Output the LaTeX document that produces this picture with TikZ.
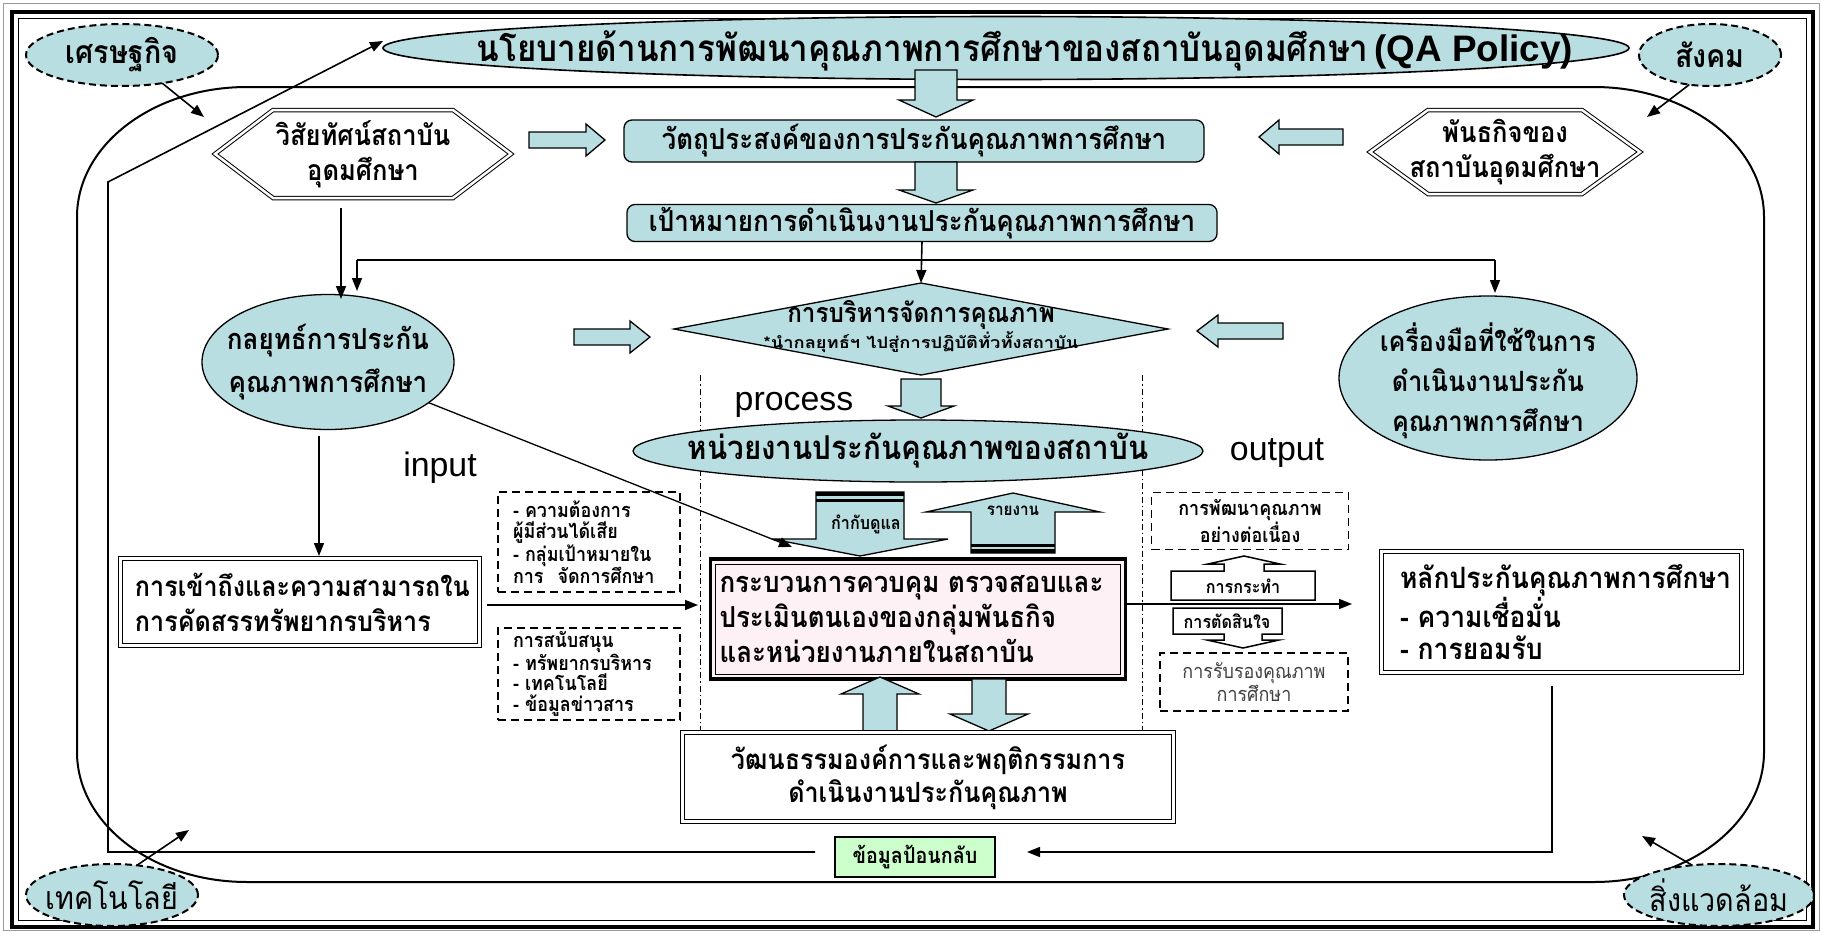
\documentclass[tikz,border=0pt]{standalone}
\usepackage{fontspec}
\usetikzlibrary{shapes.geometric,arrows.meta}
\newfontfamily\thai[Script=Thai, FakeStretch=0.9]{Loma}
\newfontfamily\thaiwide[Script=Thai, FakeStretch=1.15]{Loma}
\newfontfamily\latin{Liberation Sans}
\definecolor{qacyan}{RGB}{185,222,226}
\definecolor{qagreen}{RGB}{204,255,204}
\definecolor{qapink}{RGB}{253,241,245}
\newcommand\thb[2]{\thai\bfseries\fontsize{#1}{#2}\selectfont}
\newcommand\thr[2]{\thai\fontsize{#1}{#2}\selectfont}
\tikzset{
  qaell/.style={ellipse, draw, line width=1.3bp, fill=qacyan},
  envell/.style={ellipse, draw, line width=2bp, dash pattern=on 7bp off 4bp, fill=qacyan},
  dbox/.style={draw, line width=1.8bp, dash pattern=on 8bp off 5bp},
  dblbox/.style={draw, double=white, double distance=3bp, line width=1bp},
  dblline/.style={draw, double=white, double distance=2.5bp, line width=1bp},
  cyanbox/.style={draw, fill=qacyan, line width=1.3bp, rounded corners=8bp},
  conn/.style={line width=1.6bp},
  arr/.style={conn, -{Triangle[length=13bp,width=10bp]}},
  barrowline/.style={draw, fill=qacyan, line width=1.3bp},
  callout/.style={draw, fill=white, line width=1.5bp},
  dashdot/.style={line width=0.9bp, dash pattern=on 6bp off 3bp on 1.5bp off 3bp},
  pics/barrow/.style args={#1/#2/#3/#4}{code={%
    \path[barrowline] (-#2,0) -- (#2,0) -- (#2,#1-#4) -- (#3,#1-#4) -- (0,#1)
      -- (-#3,#1-#4) -- (-#2,#1-#4) -- cycle;}},
}
\begin{document}
\begin{tikzpicture}[x=1bp, y=-1bp, every node/.style={inner sep=0pt, outer sep=0pt}]
\useasboundingbox (0,0) rectangle (1822,933);
\fill[white] (0,0) rectangle (1822,933);

% page frame
\draw[black!40, line width=1bp] (3,3) rectangle (1819,930);
\draw[line width=4bp] (12,12) rectangle (1813,927);
\draw[line width=1bp] (18.5,18.5) rectangle (1806.5,920.5);

% environment loop
\draw[line width=2bp] (247,87) -- (1594,87) .. controls (1688,87) and (1764,145) .. (1764,217)
  -- (1764,752) .. controls (1764,824) and (1688,882) .. (1594,882)
  -- (247,882) .. controls (153,882) and (77,824) .. (77,752)
  -- (77,217) .. controls (77,145) and (153,87) .. (247,87) -- cycle;

% policy
\node[qaell, line width=1.6bp, minimum width=1246bp, minimum height=63bp] (title) at (1006,48) {};
\node[anchor=base, font=\thb{37}{40}] (titletxt) at (1025,61)
  {นโยบายด้านการพัฒนาคุณภาพการศึกษาของสถาบันอุดมศึกษา\hspace{6bp}{\latin\bfseries\fontsize{37}{40}\selectfont(QA Policy)}};

% external factors
\node[envell, minimum width=192bp, minimum height=62bp] (econ) at (122,55) {};
\node[font=\thb{32}{34}] (econt) at (econ) {เศรษฐกิจ};
\node[envell, minimum width=142bp, minimum height=62bp] (soc) at (1710,55) {};
\node[font=\thb{32}{34}] (soct) at (soc) {สังคม};
\node[envell, minimum width=172bp, minimum height=62bp] (tech) at (112,895) {};
\node[font=\thr{32}{34}] (techt) at (tech) {เทคโนโลยี};
\node[envell, minimum width=190bp, minimum height=62bp] (env) at (1719,895) {};
\node[font=\thr{32}{34}] (envt) at (env) {สิ่งแวดล้อม};
\coordinate (econtip) at (204,117);
\coordinate (soctip) at (1647,117);
\coordinate (techtip) at (189,830);
\coordinate (envtip) at (1642,836);
\draw[arr] (econ.-35) -- (econtip);
\draw[arr] (soc.-125) -- (soctip);
\draw[arr] (tech.50) -- (techtip);
\draw[arr] (env.132) -- (envtip);

% vision and mission
\draw[dblline] (215,154) -- (273,110) -- (453,110) -- (511,154) -- (453,198) -- (273,198) -- cycle;
\node[font=\thb{28.5}{35}, align=center] (vision) at (363,154) {วิสัยทัศน์สถาบัน\\อุดมศึกษา};
\draw[dblline] (1370,152) -- (1428,110) -- (1582,110) -- (1640,152) -- (1582,194) -- (1428,194) -- cycle;
\node[font=\thb{28.5}{35}, align=center] (mission) at (1505,152) {พันธกิจของ\\สถาบันอุดมศึกษา};

% objectives and goals
\node[cyanbox, minimum width=580bp, minimum height=42bp, font=\thb{29}{31}] (obj) at (914,141) {วัตถุประสงค์ของการประกันคุณภาพการศึกษา};
\node[cyanbox, minimum width=590bp, minimum height=37bp, font=\thb{29}{31}] (goals) at (922,223) {เป้าหมายการดำเนินงานประกันคุณภาพการศึกษา};
\pic at (936,70) {barrow=47/21/37/17};
\pic at (936,162) {barrow=41/21/37/13};
\pic[rotate=90] at (529,140) {barrow=76/8/16/19};
\pic[rotate=-90] at (1343,137) {barrow=84/8/17/20};

% strategy, management, tools
\node[qaell, minimum width=252bp, minimum height=135bp] (lell) at (328,362) {};
\node[font=\thb{29}{43}, align=center] (lellt) at (lell) {กลยุทธ์การประกัน\\คุณภาพการศึกษา};
\node[qaell, minimum width=298bp, minimum height=164bp] (rell) at (1488,378) {};
\node[font=\thb{28}{40}, align=center] (rellt) at ([yshift=-3bp]rell.center) {เครื่องมือที่ใช้ในการ\\ดำเนินงานประกัน\\คุณภาพการศึกษา};
\node[diamond, draw, fill=qacyan, line width=1.3bp, minimum width=494bp, minimum height=92bp] (diamond) at (921,329) {};
\node[font=\thb{27}{30}] (dtitle) at (921,315) {การบริหารจัดการคุณภาพ};
\node[font=\thaiwide\bfseries\fontsize{16}{18}\selectfont] (dnote) at (921,342) {*นำกลยุทธ์ฯ ไปสู่การปฏิบัติทั่วทั้งสถาบัน};
\coordinate (lhook) at (357,260);
\coordinate (rhook) at (1495,260);
\draw[conn] (lhook) -- (rhook);
\draw[arr] (lhook) -- ++(0,31);
\draw[arr] (rhook) -- ++(0,33);
\draw[arr] (goals.south) -- (diamond.north);
\coordinate (visbot) at (341,208);
\coordinate (vistip) at (341,299);
\draw[arr] (visbot) -- (vistip);
\pic[rotate=90] at (574,337) {barrow=76/8/16/20};
\pic[rotate=-90] at (1283,331) {barrow=86/8/16/21};
\pic at (921,379) {barrow=39/20/33/12};

% process column
\draw[dashdot] (700,375) -- (700,732);
\draw[dashdot] (1142,375) -- (1142,732);
\node[font=\latin\fontsize{34}{36}\selectfont] (process) at (794,405) {process};
\node[font=\latin\fontsize{34}{36}\selectfont] (input) at (440,468) {input};
\node[font=\latin\fontsize{34}{36}\selectfont] (output) at (1277,453) {output};
\node[qaell, minimum width=570bp, minimum height=62bp] (unit) at (918,451) {};
\node[font=\thb{33}{35}] (unitt) at (unit) {หน่วยงานประกันคุณภาพของสถาบัน};

% supervise / report
\pic at (860,492) {barrow=64/44/88/17};
\fill (816,492) rectangle (904,496);
\fill (816,498.5) rectangle (904,501.5);
\node[font=\thb{18}{20}] (supervise) at (866,524) {กำกับดูแล};
\pic[rotate=180] at (1013,553) {barrow=60/42/87/19};
\fill (971,543.5) rectangle (1055,546.5);
\fill (971,549) rectangle (1055,553);
\node[font=\thb{17}{19}] (report) at (1013,511) {รายงาน};

% self assessment
\node[draw, line width=3.5bp, fill=qapink, minimum width=415bp, minimum height=120bp] (cbox) at (918,619) {};
\draw[line width=1bp] ([shift={(5,5)}]cbox.north west) rectangle ([shift={(-5,-5)}]cbox.south east);
\node[anchor=west, font=\thb{29}{35}, align=left] (cboxt) at ([xshift=9bp]cbox.west) {กระบวนการควบคุม ตรวจสอบและ\\ประเมินตนเองของกลุ่มพันธกิจ\\และหน่วยงานภายในสถาบัน};
\pic[rotate=180] at (880,733) {barrow=56/17/39/17};
\pic at (989,679) {barrow=52/17/39/17};

% culture
\node[dblbox, minimum width=491bp, minimum height=89bp, font=\thb{28}{33}, align=center] (cult) at (928,777) {วัฒนธรรมองค์การและพฤติกรรมการ\\ดำเนินงานประกันคุณภาพ};

% input side
\node[dblbox, minimum width=358bp, minimum height=87bp] (lbox) at (300,602) {};
\node[anchor=west, font=\thb{28}{35}, align=left] (lboxt) at ([xshift=14bp]lbox.west) {การเข้าถึงและความสามารถใน\\การคัดสรรทรัพยากรบริหาร};
\coordinate (lellbot) at (319,436);
\coordinate (lboxtop) at (319,556);
\draw[arr] (lellbot) -- (lboxtop);
\coordinate (suptip) at (792,547);
\draw[arr, line width=1.3bp] (lell.-22) -- (suptip);
\coordinate (inl) at (487,605);
\coordinate (inr) at (698,605);
\draw[arr] (inl) -- (inr);
\node[dbox, minimum width=182bp, minimum height=100bp] (db1) at (589,542) {};
\node[anchor=west, font=\thb{20}{21.5}, align=left] (needs) at ([xshift=15bp]db1.west) {- ความต้องการ\\ผู้มีส่วนได้เสีย\\- กลุ่มเป้าหมายใน\\การ\hspace{14bp}จัดการศึกษา};
\node[dbox, minimum width=182bp, minimum height=92bp] (db2) at (589,674) {};
\node[anchor=west, font=\thb{20}{20.5}, align=left] (support) at ([xshift=15bp]db2.west) {การสนับสนุน\\- ทรัพยากรบริหาร\\- เทคโนโลยี\\- ข้อมูลข่าวสาร};

% output side
\node[dbox, minimum width=197bp, minimum height=57bp, font=\thb{20}{21}, align=center] (dev) at (1250,521) {การพัฒนาคุณภาพ\\อย่างต่อเนื่อง};
\node[dbox, minimum width=188bp, minimum height=58bp, font=\thr{20}{20}, text=black!75, align=center] (accr) at (1254,682) {การรับรองคุณภาพ\\การศึกษา};
\draw[callout] (1171,600) -- (1171,571) -- (1224,571) -- (1224,564) -- (1208,564) -- (1244,556)
  -- (1280,564) -- (1264,564) -- (1264,571) -- (1315,571) -- (1315,600) -- cycle;
\node[font=\thb{18}{20}] (act) at (1243,586) {การกระทำ};
\draw[callout] (1173,608) -- (1282,608) -- (1282,634) -- (1262,634) -- (1262,640) -- (1279,640)
  -- (1243,648) -- (1207,640) -- (1224,640) -- (1224,634) -- (1173,634) -- cycle;
\node[font=\thb{18}{20}] (decide) at (1227,621) {การตัดสินใจ};
\coordinate (outl) at (1126,604);
\coordinate (outr) at (1352,604);
\draw[arr] (outl) -- (outr);
\node[dblbox, minimum width=360bp, minimum height=121bp] (rbox) at (1561,612) {};
\node[anchor=west, font=\thb{29.5}{33}, align=left] (rboxt) at ([xshift=19bp]rbox.west) {หลักประกันคุณภาพการศึกษา\\- ความเชื่อมั่น\\- การยอมรับ};

% feedback
\node[draw, fill=qagreen, line width=1.3bp, minimum width=160bp, minimum height=40bp, font=\thb{22}{24}] (fb) at (915,857) {ข้อมูลป้อนกลับ};
\coordinate (rbtop) at (1552,686);
\coordinate (rbcorner) at (1552,852);
\coordinate (fbr) at (1027,852);
\draw[arr] (rbtop) -- (rbcorner) -- (fbr);
\coordinate (fbl) at (815,852);
\coordinate (loopbl) at (108,852);
\coordinate (looptl) at (108,182);
\draw[arr] (fbl) -- (loopbl) -- (looptl) -- ([yshift=7bp]title.west);
\end{tikzpicture}
\end{document}
